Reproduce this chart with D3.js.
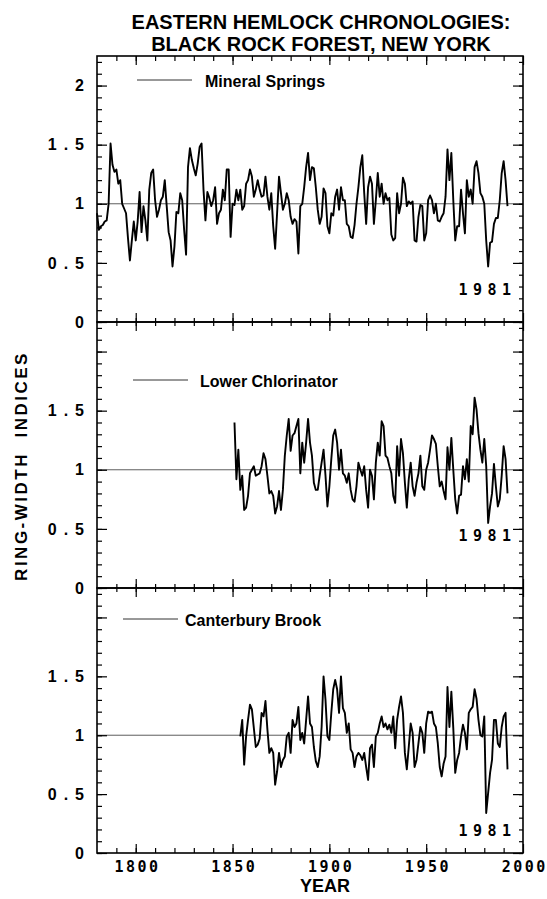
<!DOCTYPE html>
<html>
<head>
<meta charset="utf-8">
<script src="https://cdn.jsdelivr.net/npm/d3@7"></script>
<style>
  html, body { margin: 0; padding: 0; background: #fff; }
  svg { display: block; }
</style>
</head>
<body>
<div id="chart"></div>
<script>
// ---------------- DATA ----------------
const title1 = "EASTERN HEMLOCK CHRONOLOGIES:";
const title2 = "BLACK ROCK FOREST, NEW YORK";
const xLabel = "YEAR";
const yLabel = "RING-WIDTH  INDICES";
const seriesNames = ["Mineral Springs", "Lower Chlorinator", "Canterbury Brook"];
const seriesStarts = [1780, 1851, 1854];
const markYearLabel = "1981";

const xDomain = [1780, 2000];
const xMajorTicks = [1800, 1850, 1900, 1950, 2000];
const xMinorTicks = [1790, 1800, 1810, 1820, 1830, 1840, 1850, 1860, 1870, 1880, 1890, 1900,
                     1910, 1920, 1930, 1940, 1950, 1960, 1970, 1980, 1990];
const yDomain = [0, 2.25];
const yMajorTicks = [0, 0.5, 1, 1.5, 2];
const yMinorTicks = [0, 0.1, 0.2, 0.3, 0.4, 0.5, 0.6, 0.7, 0.8, 0.9, 1, 1.1, 1.2, 1.3, 1.4,
                     1.5, 1.6, 1.7, 1.8, 1.9, 2, 2.1, 2.2];
const yLabelsPanel1 = [0, 0.5, 1, 1.5, 2];
const yLabelsPanel23 = [0, 0.5, 1, 1.5];
const referenceValue = 1;

// Mineral Springs, 1780-1992
const mineralSprings = [
  0.92, 0.78, 0.81, 0.82, 0.85, 0.86, 1.00, 1.51, 1.33, 1.27,
  1.29, 1.17, 1.20, 1.00, 0.96, 0.92, 0.71, 0.52, 0.69, 0.85,
  0.69, 0.85, 1.10, 0.76, 0.98, 0.86, 0.69, 1.12, 1.26, 1.29,
  1.03, 0.89, 0.95, 1.03, 1.06, 1.20, 0.98, 0.76, 0.69, 0.47,
  0.64, 0.93, 0.92, 1.09, 1.03, 0.78, 0.57, 1.31, 1.47, 1.37,
  1.30, 1.24, 1.34, 1.48, 1.51, 1.12, 0.86, 1.10, 1.05, 0.98,
  1.03, 1.14, 0.83, 0.92, 0.95, 1.12, 1.03, 1.29, 1.29, 0.72,
  1.00, 0.99, 1.12, 1.03, 1.12, 0.95, 0.98, 1.17, 1.20, 1.29,
  1.23, 1.06, 1.12, 1.20, 1.12, 1.06, 1.07, 1.23, 1.06, 0.95,
  1.09, 0.81, 0.62, 0.92, 1.23, 1.09, 0.95, 1.00, 1.09, 1.03,
  0.89, 0.83, 0.87, 0.85, 0.58, 0.98, 1.00, 1.14, 1.31, 1.43,
  1.20, 1.31, 1.30, 1.14, 0.95, 0.83, 0.89, 1.13, 1.09, 0.81,
  0.75, 0.92, 0.90, 1.06, 1.12, 0.95, 1.14, 1.03, 1.03, 0.83,
  0.81, 0.72, 0.71, 0.82, 1.00, 1.14, 1.31, 1.41, 1.09, 0.83,
  1.14, 1.23, 1.17, 0.83, 1.03, 1.26, 1.06, 1.17, 1.00, 1.09,
  1.03, 1.05, 0.74, 0.69, 0.71, 1.09, 0.92, 1.00, 1.22, 1.17,
  0.98, 1.02, 1.00, 1.02, 0.69, 0.68, 0.89, 0.99, 0.98, 0.69,
  0.75, 1.03, 1.07, 1.03, 0.92, 1.00, 0.86, 0.85, 0.89, 0.92,
  1.06, 1.46, 1.20, 1.43, 1.03, 0.69, 0.81, 0.81, 1.12, 0.92,
  0.75, 1.20, 1.06, 1.12, 1.00, 1.31, 1.36, 1.26, 1.09, 1.06,
  1.00, 0.69, 0.47, 0.67, 0.68, 0.83, 0.88, 0.88, 1.03, 1.26,
  1.36, 1.20, 0.98
];

// Lower Chlorinator, 1851-1992
const lowerChlorinator = [
  1.40, 0.92, 1.17, 0.83, 0.95, 0.66, 0.68, 0.78, 0.97, 1.00,
  1.03, 0.95, 0.96, 0.97, 1.03, 1.14, 1.09, 0.95, 0.80, 0.82,
  0.78, 0.63, 0.69, 0.82, 0.66, 0.83, 1.12, 1.29, 1.43, 1.16,
  1.29, 1.31, 1.37, 1.43, 0.97, 1.23, 1.06, 1.23, 1.43, 1.23,
  1.12, 0.89, 0.83, 0.83, 0.95, 1.06, 1.17, 0.95, 0.69, 0.86,
  1.09, 1.29, 1.34, 1.23, 1.00, 1.17, 0.97, 0.95, 0.89, 0.97,
  0.83, 0.75, 0.73, 0.86, 1.06, 1.00, 0.95, 1.03, 0.83, 0.68,
  1.00, 0.95, 0.75, 1.06, 1.23, 1.12, 1.41, 1.37, 1.12, 1.10,
  1.03, 0.97, 0.78, 0.72, 1.20, 0.95, 1.26, 1.14, 0.89, 0.68,
  0.92, 1.06, 0.86, 0.78, 0.89, 0.97, 1.12, 0.86, 0.83, 1.00,
  1.06, 1.17, 1.29, 1.26, 1.22, 1.03, 0.86, 0.90, 0.82, 0.75,
  1.19, 1.00, 1.27, 1.00, 0.75, 0.63, 0.78, 0.79, 1.03, 0.92,
  1.09, 0.90, 1.37, 1.30, 1.61, 1.51, 1.31, 1.17, 1.06, 1.26,
  1.03, 0.55, 0.69, 0.80, 1.05, 0.86, 0.69, 0.75, 0.95, 1.20,
  1.09, 0.80
];

// Canterbury Brook, 1854-1992
const canterburyBrook = [
  0.99, 1.13, 0.75, 0.99, 1.13, 1.26, 1.22,
  1.06, 0.90, 0.92, 0.97, 1.19, 1.16, 1.29, 1.05, 0.85, 0.89,
  0.85, 0.58, 0.69, 0.85, 0.73, 0.79, 0.82, 0.99, 1.02, 0.85,
  1.13, 1.07, 1.10, 1.24, 0.96, 1.02, 0.93, 1.13, 1.33, 1.10,
  1.07, 0.90, 0.78, 0.73, 0.82, 1.07, 1.50, 1.30, 0.99, 0.96,
  1.19, 1.39, 1.47, 1.39, 1.19, 1.50, 1.23, 1.19, 1.02, 1.10,
  0.88, 0.85, 0.73, 0.82, 0.85, 0.83, 0.79, 0.85, 0.73, 0.62,
  0.89, 0.92, 0.73, 0.99, 1.02, 1.10, 1.16, 1.07, 1.10, 1.05,
  1.09, 1.02, 1.16, 0.89, 1.13, 1.24, 1.33, 1.19, 0.85, 0.71,
  0.90, 1.10, 1.02, 0.73, 0.79, 0.93, 1.07, 1.02, 0.85, 1.10,
  1.20, 1.19, 1.20, 1.10, 1.07, 0.93, 0.73, 0.65, 0.76, 0.82,
  1.41, 1.07, 1.37, 1.06, 0.68, 0.79, 0.85, 0.99, 1.09, 1.02,
  0.88, 1.19, 1.22, 1.24, 1.39, 1.31, 1.13, 1.00, 0.99, 1.16,
  0.34, 0.51, 0.68, 0.79, 1.13, 1.13, 0.93, 0.90, 1.07, 1.16,
  1.19, 0.71
];

const seriesValues = [mineralSprings, lowerChlorinator, canterburyBrook];

// ---------------- LAYOUT ----------------
const W = 547, H = 899;
const left = 97, right = 523;
const panelTops = [56, 322, 588];
const panelBottoms = [322, 588, 853];

const sansBold = "'Liberation Sans', Arial, Helvetica, sans-serif";
const monoBold = "'DejaVu Sans Mono', 'Liberation Mono', monospace";

const svg = d3.select("#chart").append("svg")
  .attr("width", W).attr("height", H)
  .attr("viewBox", `0 0 ${W} ${H}`);
svg.append("rect").attr("width", W).attr("height", H).attr("fill", "#fff");

const x = d3.scaleLinear().domain(xDomain).range([left, right]);

// Titles
svg.append("text").attr("x", 321).attr("y", 29).attr("text-anchor", "middle")
  .style("font-family", sansBold).style("font-weight", "bold").style("font-size", "20px")
  .text(title1);
svg.append("text").attr("x", 321).attr("y", 51).attr("text-anchor", "middle")
  .style("font-family", sansBold).style("font-weight", "bold").style("font-size", "20px")
  .text(title2);

// Legend positions
const legendPos = [
  {x1: 137, x2: 192, y: 80, tx: 205, ty: 86.5},
  {x1: 133, x2: 188, y: 380, tx: 200, ty: 386.5},
  {x1: 123, x2: 178, y: 619, tx: 185, ty: 625.5}
];
const markPos = [295, 541, 836];

function styleAxis(g) {
  g.select(".domain").remove();
  g.selectAll(".tick line").attr("stroke", "#000").attr("stroke-width", 1.2);
}

seriesValues.forEach((vals, i) => {
  const top = panelTops[i], bottom = panelBottoms[i];
  const y = d3.scaleLinear().domain(yDomain).range([bottom, top]);
  const g = svg.append("g");
  const labelsShown = i === 0 ? yLabelsPanel1 : yLabelsPanel23;

  // reference line at 1.0
  g.append("line")
    .attr("x1", left).attr("x2", right)
    .attr("y1", y(referenceValue)).attr("y2", y(referenceValue))
    .attr("stroke", "#333").attr("stroke-width", 0.8);

  // series line
  const data = vals.map((v, k) => ({year: seriesStarts[i] + k, value: v}));
  const line = d3.line().x(d => x(d.year)).y(d => y(d.value));
  g.append("path").datum(data)
    .attr("d", line)
    .attr("fill", "none")
    .attr("stroke", "#000")
    .attr("stroke-width", 1.9)
    .attr("stroke-linejoin", "round");

  // left axis (ticks inward)
  const gLm = g.append("g").attr("transform", `translate(${left},0)`)
    .call(d3.axisLeft(y).tickValues(yMinorTicks).tickSize(-5).tickFormat(""));
  styleAxis(gLm);
  const gL = g.append("g").attr("transform", `translate(${left},0)`)
    .call(d3.axisLeft(y).tickValues(yMajorTicks).tickSize(-10).tickPadding(6)
      .tickFormat(d => labelsShown.includes(d) ? d3.format("~g")(d) : ""));
  styleAxis(gL);
  gL.selectAll("text")
    .style("font-family", sansBold).style("font-weight", "bold")
    .style("font-size", "16px").style("letter-spacing", "7px").attr("fill", "#000");

  // right axis (ticks inward)
  const gRm = g.append("g").attr("transform", `translate(${right},0)`)
    .call(d3.axisRight(y).tickValues(yMinorTicks).tickSize(-4).tickFormat(""));
  styleAxis(gRm);
  const gR = g.append("g").attr("transform", `translate(${right},0)`)
    .call(d3.axisRight(y).tickValues(yMajorTicks).tickSize(-10).tickFormat(""));
  styleAxis(gR);

  // top edge ticks
  if (i === 0) {
    const t1 = g.append("g").attr("transform", `translate(0,${top})`)
      .call(d3.axisTop(x).tickValues(xMinorTicks).tickSize(-5).tickFormat(""));
    styleAxis(t1);
    const t2 = g.append("g").attr("transform", `translate(0,${top})`)
      .call(d3.axisTop(x).tickValues(xMajorTicks).tickSize(-9).tickFormat(""));
    styleAxis(t2);
  }
  // bottom edge ticks
  if (i < 2) {
    [[xMinorTicks, 4], [xMajorTicks, 9]].forEach(([tv, s]) => {
      const a = g.append("g").attr("transform", `translate(0,${bottom})`)
        .call(d3.axisBottom(x).tickValues(tv).tickSize(s).tickFormat(""));
      styleAxis(a);
      const b = g.append("g").attr("transform", `translate(0,${bottom})`)
        .call(d3.axisTop(x).tickValues(tv).tickSize(s).tickFormat(""));
      styleAxis(b);
    });
  } else {
    const bm = g.append("g").attr("transform", `translate(0,${bottom})`)
      .call(d3.axisBottom(x).tickValues(xMinorTicks).tickSize(-5).tickFormat(""));
    styleAxis(bm);
    const bM = g.append("g").attr("transform", `translate(0,${bottom})`)
      .call(d3.axisBottom(x).tickValues(xMajorTicks).tickSize(-9).tickPadding(8)
        .tickFormat(d3.format("d")));
    styleAxis(bM);
    bM.selectAll("text")
      .style("font-family", monoBold).style("font-weight", "bold")
      .style("font-size", "15px").style("letter-spacing", "2.5px")
      .attr("dx", "1.25").attr("fill", "#000");
  }

  // frame
  g.append("rect")
    .attr("x", left).attr("y", top)
    .attr("width", right - left).attr("height", bottom - top)
    .attr("fill", "none").attr("stroke", "#000").attr("stroke-width", 1.6);

  // legend
  const lp = legendPos[i];
  g.append("line").attr("x1", lp.x1).attr("x2", lp.x2).attr("y1", lp.y).attr("y2", lp.y)
    .attr("stroke", "#333").attr("stroke-width", 1);
  g.append("text").attr("x", lp.tx).attr("y", lp.ty)
    .style("font-family", sansBold).style("font-weight", "bold").style("font-size", "16px")
    .text(seriesNames[i]);

  // 1981 mark label
  g.append("text").attr("x", 516.5).attr("y", markPos[i]).attr("text-anchor", "end")
    .style("font-family", monoBold).style("font-weight", "bold")
    .style("font-size", "15px").style("letter-spacing", "5.5px")
    .text(markYearLabel);
});

// Axis titles
svg.append("text").attr("x", 325).attr("y", 892).attr("text-anchor", "middle")
  .style("font-family", sansBold).style("font-weight", "bold").style("font-size", "18px")
  .text(xLabel);

svg.append("text")
  .attr("transform", "translate(27,466) rotate(-90)")
  .attr("text-anchor", "middle")
  .style("font-family", sansBold).style("font-weight", "bold").style("font-size", "17px")
  .style("letter-spacing", "2.5px")
  .style("white-space", "pre")
  .text(yLabel);
</script>
</body>
</html>
